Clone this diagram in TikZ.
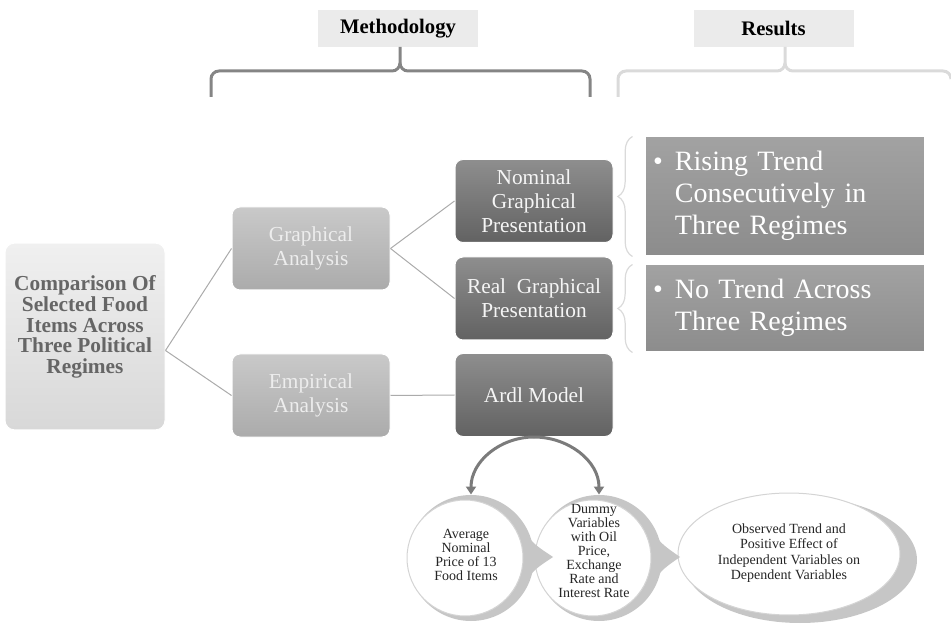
\documentclass[tikz,border=0pt]{standalone}
\usepackage{fontspec}
\setmainfont{Liberation Serif}
\usetikzlibrary{arrows.meta,decorations.pathreplacing}

\definecolor{headFill}{HTML}{EBEBEB}
\definecolor{braceDark}{HTML}{858585}
\definecolor{braceLight}{HTML}{DADADA}
\definecolor{linkGray}{HTML}{ABABAB}
\definecolor{arcGray}{HTML}{7B7B7B}
\definecolor{mainText}{HTML}{666666}
\definecolor{mainTop}{HTML}{F0F0F0}
\definecolor{mainBot}{HTML}{D8D8D8}
\definecolor{lightTop}{HTML}{C9C9C9}
\definecolor{lightBot}{HTML}{ABABAB}
\definecolor{darkTop}{HTML}{8E8E8E}
\definecolor{darkBot}{HTML}{626262}
\definecolor{resTop}{HTML}{A2A2A2}
\definecolor{resBot}{HTML}{8C8C8C}
\definecolor{ringGray}{HTML}{C6C6C6}
\definecolor{discEdge}{HTML}{D4D4D4}
\definecolor{discText}{HTML}{262626}

\tikzset{every picture/.style={line width=0.75pt}}
\tikzset{
  headbox/.style={fill=headFill, minimum width=120pt, minimum height=27.75pt, inner sep=0pt,
    font=\fontsize{15.5}{18}\selectfont\bfseries},
  mainbox/.style={rounded corners=7pt, top color=mainTop, bottom color=mainBot, draw=white,
    minimum width=120pt, minimum height=140pt},
  mainlabel/.style={align=center, text=mainText, inner sep=0pt,
    font=\fontsize{16}{15.5}\selectfont\bfseries},
  lightbox/.style={rounded corners=6pt, top color=lightTop, bottom color=lightBot, draw=white,
    minimum width=118.5pt, minimum height=62.25pt, inner sep=2pt, align=center,
    text=white!93!black, font=\fontsize{16}{18}\selectfont},
  darkbox/.style={lightbox, top color=darkTop, bottom color=darkBot, text=white!96!black},
  resbox/.style={top color=resTop, bottom color=resBot, draw=white, minimum width=209.25pt,
    inner xsep=6pt, text width=197pt, align=left, text=white, font=\fontsize{21}{24}\selectfont},
  branch/.style={draw=linkGray, line width=0.75pt},
  methbrace/.style={draw=braceDark, line width=2.25pt},
  resbrace/.style={draw=braceLight, line width=2.25pt},
  sidebrace/.style={draw=braceLight, line width=0.9pt, decorate, decoration={brace, amplitude=11pt}},
  bendarrow/.style={draw=arcGray, line width=2.25pt, -{Triangle[width=7.5pt,length=6pt]}},
  ring/.style={circle, fill=ringGray, minimum size=94.5pt, inner sep=0pt},
  disctext/.style={align=center, inner sep=0pt, text=discText, font=\fontsize{10.5}{10.5}\selectfont},
}

\begin{document}
\begin{tikzpicture}[x=0.75pt,y=0.75pt,yscale=-1,xscale=1]
		\useasboundingbox (0,0) rectangle (951,624);
		
		% Text Node
		\node [headbox] (meth) at (398,28.5) {Methodology};
		% Text Node
		\node [headbox] (res) at (773.5,28.5) {Results};
		
		%Shape: Brace [id:methodology]
		\draw [methbrace] (211,97) -- (211,79) to[out=-90,in=180] (219,71) -- (392,71) to[out=0,in=90] (400,63) -- (400,47) ;
		\draw [methbrace] (590,97) -- (590,79) to[out=-90,in=0] (582,71) -- (408,71) to[out=180,in=90] (400,63) ;
		%Shape: Brace [id:results]
		\draw [resbrace] (618,97) -- (618,79) to[out=-90,in=180] (626,71) -- (777,71) to[out=0,in=90] (785,63) -- (785,47) ;
		\draw [resbrace] (951,79) to[out=-90,in=0] (943,71) -- (793,71) to[out=180,in=90] (785,63) ;
		
		%Shape: Rounded Rect [id:comparison]
		\node [mainbox] (cmp) at (85,336.5) {};
		\node [mainlabel] (cmptext) at (85,327) {Comparison Of\\Selected Food\\Items Across\\Three Political\\Regimes};
		
		%Shape: Rounded Rect [id:analysis]
		\node [lightbox] (graph) at (311,248.5) {Graphical\\Analysis};
		\node [lightbox] (emp) at (311,395.5) {Empirical\\Analysis};
		
		%Shape: Rounded Rect [id:presentation]
		\node [darkbox] (nom) at (534,201) {Nominal\\Graphical\\Presentation};
		\node [darkbox] (real) at (534,298.5) {Real~~Graphical\\Presentation};
		\node [darkbox] (ardl) at (534,395) {Ardl Model};
		
		%Shape: Rect [id:results]
		\node [resbox, minimum height=89.25pt] (rise) at (784.5,196.5) {\begin{tabular}{@{}l@{\hspace{9pt}}l@{}}\textbullet & Rising Trend\\ & Consecutively in\\ & Three Regimes\end{tabular}};
		\node [resbox, minimum height=65.25pt] (none) at (784.5,308.5) {\begin{tabular}{@{}l@{\hspace{9pt}}l@{}}\textbullet & No Trend Across\\ & Three Regimes\end{tabular}};
		
		%Shape: Brace [id:side]
		\draw [sidebrace] ([xshift=-9pt]rise.south west) -- ([xshift=-9pt]rise.north west) ;
		\draw [sidebrace] ([xshift=-9pt]none.south west) -- ([xshift=-9pt]none.north west) ;
		
		%Straight Lines [id:branches]
		\draw [branch] ([yshift=10.5pt]cmp.east) -- (graph.west) ;
		\draw [branch] ([yshift=10.5pt]cmp.east) -- (emp.west) ;
		\draw [branch] (graph.east) -- (nom.west) ;
		\draw [branch] (graph.east) -- (real.west) ;
		\draw [branch] (emp.east) -- (ardl.west) ;
		
		%Shape: Ellipse [id:observed]
		\fill [ringGray] (800,560) ellipse [x radius=117, y radius=63] ;
		\filldraw [fill=white, draw=discEdge] (789,554) ellipse [x radius=111, y radius=61] ;
		\node [disctext, font=\fontsize{10.5}{11.5}\selectfont] (obs) at (789,553) {Observed Trend and\\Positive Effect of\\Independent Variables on\\Dependent Variables};
		
		%Shape: Circle Arrow [id:dummy]
		\node [ring] (dummyring) at (599,558) {};
		\fill [ringGray] (648,524) .. controls (660,543) .. (680,557) .. controls (660,571) .. (648,592) -- cycle ;
		\filldraw [fill=white, draw=discEdge] (593,558) circle [radius=58] ;
		\node [disctext] (dummy) at (594,551) {Dummy\\Variables\\with Oil\\Price,\\Exchange\\Rate and\\Interest Rate};
		
		%Shape: Circle Arrow [id:average]
		\node [ring] (avgring) at (471,558) {};
		\fill [ringGray] (520,524) .. controls (532,543) .. (553,557) .. controls (532,571) .. (520,592) -- cycle ;
		\filldraw [fill=white, draw=discEdge] (465,558) circle [radius=58] ;
		\node [disctext] (avg) at (466,555) {Average\\Nominal\\Price of 13\\Food Items};
		
		%Curve Lines [id:ardlarrows]
		\draw [bendarrow] (ardl.south) to[out=180,in=-90] (avgring.north) ;
		\draw [bendarrow] (ardl.south) to[out=0,in=-90] (dummyring.north) ;
		
\end{tikzpicture}
\end{document}
